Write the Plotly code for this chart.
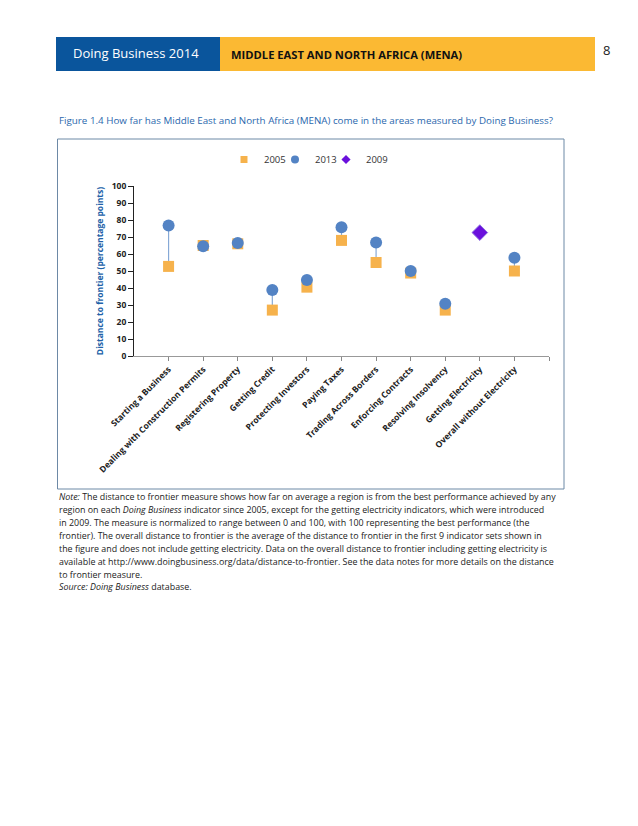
import plotly.graph_objects as go

W, H = 638, 826
OFF = 8  # page body margin of the rendered html

categories = ["Starting a Business", "Dealing with Construction Permits", "Registering Property",
              "Getting Credit", "Protecting Investors", "Paying Taxes", "Trading Across Borders",
              "Enforcing Contracts", "Resolving Insolvency", "Getting Electricity",
              "Overall without Electricity"]
values_2005 = [52.7, 65.0, 66.0, 27.0, 40.5, 68.0, 55.0, 48.8, 27.0, None, 50.0]
values_2013 = [76.8, 64.5, 66.5, 38.8, 44.7, 75.7, 66.8, 50.0, 30.8, None, 57.8]
values_2009 = [None, None, None, None, None, None, None, None, None, 72.6, None]
y_ticks = [0, 10, 20, 30, 40, 50, 60, 70, 80, 90, 100]

note_lines = [
    "<i>Note:</i> The distance to frontier measure shows how far on average a region is from the best performance achieved by any",
    "region on each <i>Doing Business</i> indicator since 2005, except for the getting electricity indicators, which were introduced",
    "in 2009. The measure is normalized to range between 0 and 100, with 100 representing the best performance (the",
    "frontier). The overall distance to frontier is the average of the distance to frontier in the first 9 indicator sets shown in",
    "the figure and does not include getting electricity. Data on the overall distance to frontier including getting electricity is",
    "available at http://www.doingbusiness.org/data/distance-to-frontier. See the data notes for more details on the distance",
    "to frontier measure.",
    "<i>Source: Doing Business</i> database.",
]


def px(x):
    return (x - OFF) / W


def py(y):
    return 1 - (y - OFF) / H


xs = list(range(len(categories)))

C2005, C2013, C2009 = "#f6b24c", "#5383c4", "#6a10dc"

# connector lines between 2005 and 2013
lx, ly = [], []
for i, (a, b) in enumerate(zip(values_2005, values_2013)):
    if a is not None and b is not None:
        lx += [i, i, None]
        ly += [a, b, None]

fig = go.Figure()
fig.add_trace(go.Scatter(x=lx, y=ly, mode="lines", line=dict(color="#86a9d6", width=1.2),
                         showlegend=False, hoverinfo="skip"))
fig.add_trace(go.Scatter(x=xs, y=values_2005, mode="markers", name="2005", showlegend=False,
                         marker=dict(symbol="square", size=11, color=C2005)))
fig.add_trace(go.Scatter(x=xs, y=values_2013, mode="markers", name="2013", showlegend=False,
                         marker=dict(symbol="circle", size=12, color=C2013)))
fig.add_trace(go.Scatter(x=xs, y=values_2009, mode="markers", name="2009", showlegend=False,
                         marker=dict(symbol="diamond", size=12, color=C2009,
                                     line=dict(color="#8a6ae0", width=1))))

# legend entries (small symbols, as in the original)
fig.add_trace(go.Scatter(x=[None], y=[None], mode="markers", name="2005", legend="legend",
                         marker=dict(symbol="square", size=7, color=C2005)))
fig.add_trace(go.Scatter(x=[None], y=[None], mode="markers", name="2013", legend="legend2",
                         marker=dict(symbol="circle", size=8, color=C2013)))
fig.add_trace(go.Scatter(x=[None], y=[None], mode="markers", name="2009", legend="legend3",
                         marker=dict(symbol="diamond", size=7, color=C2009)))

font_main = "Open Sans, Noto Sans, sans-serif"


def leg(xc):
    return dict(orientation="h", x=px(xc - 19), y=py(145), xanchor="left", yanchor="top",
                font=dict(size=9.5, color="#333"), bgcolor="rgba(0,0,0,0)")


fig.update_layout(
    width=W, height=H,
    autosize=False,
    margin=dict(l=0, r=0, t=0, b=0, pad=0, autoexpand=False),
    paper_bgcolor="white", plot_bgcolor="white",
    font=dict(family=font_main, size=9, color="#222"),
    showlegend=True,
    legend=leg(243), legend2=leg(294), legend3=leg(345),
    xaxis=dict(domain=[px(134), px(549)], range=[-1, 11], automargin=False,
               tickvals=list(range(12)), ticktext=categories + [""],
               tickangle=-45, ticks="outside", ticklen=4, tickcolor="#888",
               showline=True, linecolor="#999", linewidth=1, showgrid=False, zeroline=False,
               tickfont=dict(size=8.5, color="#222", family="Open Sans, sans-serif", weight="bold"),
               anchor="y"),
    yaxis=dict(domain=[py(356), py(186)], range=[0, 100], automargin=False,
               tickvals=y_ticks, ticks="outside", ticklen=5, tickcolor="#222",
               showline=True, linecolor="#222", linewidth=1, showgrid=False, zeroline=False,
               tickfont=dict(size=8.5, color="#222", family="Open Sans, sans-serif", weight="bold"),
               title=dict(text="<b>Distance to frontier (percentage points)</b>",
                          font=dict(size=8.5, color="#2161a8"), standoff=6),
               anchor="x"),
)

shapes = [
    # header boxes
    dict(type="rect", xref="paper", yref="paper", x0=px(56), x1=px(220), y0=py(71), y1=py(37),
         fillcolor="#0a559c", line=dict(width=0), layer="below"),
    dict(type="rect", xref="paper", yref="paper", x0=px(220), x1=px(595), y0=py(71), y1=py(37),
         fillcolor="#fbb933", line=dict(width=0), layer="below"),
    # chart frame
    dict(type="rect", xref="paper", yref="paper", x0=px(57.5), x1=px(564), y0=py(489), y1=py(139),
         fillcolor="rgba(0,0,0,0)", line=dict(color="#6d89a6", width=1), layer="below"),
]

annotations = [
    dict(text="Doing Business 2014", x=px(71), y=py(53), xref="paper", yref="paper",
         xanchor="left", yanchor="middle", showarrow=False,
         font=dict(size=13, color="white", family=font_main)),
    dict(text="<b>MIDDLE EAST AND NORTH AFRICA (MENA)</b>", x=px(229), y=py(54), xref="paper", yref="paper",
         xanchor="left", yanchor="middle", showarrow=False,
         font=dict(size=11.2, color="#111", family=font_main)),
    dict(text="8", x=px(601), y=py(50), xref="paper", yref="paper",
         xanchor="left", yanchor="middle", showarrow=False,
         font=dict(size=13, color="#222", family=font_main)),
    dict(text="Figure 1.4 How far has Middle East and North Africa (MENA) come in the areas measured by Doing Business?",
         x=px(57), y=py(121), xref="paper", yref="paper",
         xanchor="left", yanchor="middle", showarrow=False,
         font=dict(size=9.8, color="#2a67ad", family=font_main)),
]
for i, line in enumerate(note_lines):
    annotations.append(dict(text=line, x=px(57), y=py(497 + i * 12.85), xref="paper", yref="paper",
                            xanchor="left", yanchor="middle", showarrow=False,
                            font=dict(size=8.9, color="#222", family=font_main)))

fig.update_layout(shapes=shapes, annotations=annotations)

fig.write_html("out.html")
